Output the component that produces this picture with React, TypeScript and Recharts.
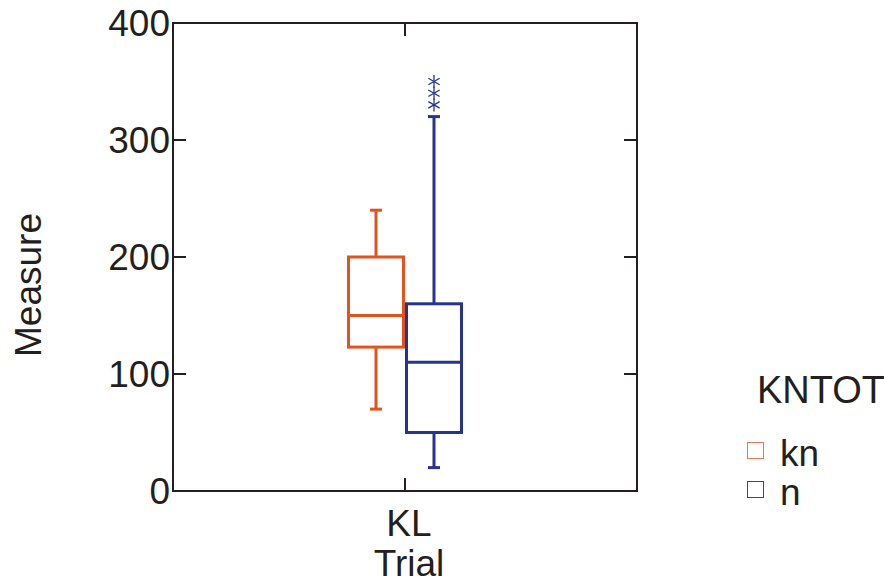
import { ComposedChart, Bar, XAxis, YAxis, Legend, ReferenceArea } from "recharts";

const categories = ["KL"];
const seriesNames = ["kn", "n"];
// whisker low, Q1, median, Q3, whisker high
const knBox = [70, 123, 150, 200, 240];
const nBox = [20, 50, 110, 160, 320];
const knOutliers: number[] = [];
const nOutliers = [330, 340, 350];
const yTicks = [0, 100, 200, 300, 400];

const INK = "#231f20";
const ORANGE = "#e0531f";
const BLUE = "#25358f";
const FONT = "'Liberation Sans', Arial, Helvetica, sans-serif";

const W = 884;
const H = 584;
const MARGIN = { top: 23, right: 247, bottom: 0, left: 0 };
const Y_AXIS_W = 173;
const X_AXIS_H = 93;
const PLOT_W = W - MARGIN.right - Y_AXIS_W;
const PLOT_H = H - MARGIN.top - X_AXIS_H;

const data = categories.map((c) => ({ trial: c, kn: knBox[4], n: nBox[4] }));
const legendColor: Record<string, string> = { kn: "#e8784f", n: "#3346a8" };

function Star({ cx, cy, color }: { cx: number; cy: number; color: string }) {
  const r = 6.5;
  const d = r * 0.87;
  return (
    <g stroke={color} strokeWidth={1.3}>
      <line x1={cx} y1={cy - r} x2={cx} y2={cy + r} />
      <line x1={cx - d} y1={cy - r / 2} x2={cx + d} y2={cy + r / 2} />
      <line x1={cx - d} y1={cy + r / 2} x2={cx + d} y2={cy - r / 2} />
    </g>
  );
}

function makeBox(stats: number[], outliers: number[], color: string) {
  return (props: any) => {
    const { x, y, width, height } = props;
    // bar spans 0..whisker high, so it gives us the value -> pixel scale
    const base = y + height;
    const k = height / stats[4];
    const py = (v: number) => base - v * k;
    const cx = x + width / 2;
    const cap = 6;
    return (
      <g stroke={color} strokeWidth={3} fill="none">
        <line x1={cx} y1={py(stats[4])} x2={cx} y2={py(stats[3])} />
        <line x1={cx} y1={py(stats[1])} x2={cx} y2={py(stats[0])} />
        <line x1={cx - cap} y1={py(stats[4])} x2={cx + cap} y2={py(stats[4])} />
        <line x1={cx - cap} y1={py(stats[0])} x2={cx + cap} y2={py(stats[0])} />
        <rect x={x + 1.5} y={py(stats[3])} width={width - 3} height={py(stats[1]) - py(stats[3])} />
        <line x1={x + 1.5} y1={py(stats[2])} x2={x + width - 1.5} y2={py(stats[2])} />
        {outliers.map((v, i) => (
          <Star key={i} cx={cx} cy={py(v)} color={color} />
        ))}
      </g>
    );
  };
}

// left ticks point inward; mirrored inward ticks on the right frame edge
const YTick = (props: any) => {
  const { x, y, payload } = props;
  return (
    <g>
      <line x1={x} y1={y} x2={x + 13} y2={y} stroke={INK} strokeWidth={2} />
      <line x1={x + PLOT_W} y1={y} x2={x + PLOT_W - 13} y2={y} stroke={INK} strokeWidth={2} />
      <text x={x - 3} y={y + 13} textAnchor="end" fontSize={37} fill={INK} fontFamily={FONT}>
        {payload.value}
      </text>
    </g>
  );
};

const XTick = (props: any) => {
  const { x, y, payload } = props;
  return (
    <g>
      <line x1={x} y1={y} x2={x} y2={y - 13} stroke={INK} strokeWidth={2} />
      <line x1={x} y1={y - PLOT_H} x2={x} y2={y - PLOT_H + 13} stroke={INK} strokeWidth={2} />
      <text x={x + 4} y={y + 45} textAnchor="middle" fontSize={37} fill={INK} fontFamily={FONT}>
        {payload.value}
      </text>
    </g>
  );
};

const LegendBox = (props: any) => {
  const items = props.payload || [];
  return (
    <div style={{ fontFamily: FONT, color: INK, textAlign: "left" }}>
      <div style={{ fontSize: 38, lineHeight: "40px", marginLeft: 12, marginBottom: 24 }}>KNTOT</div>
      {items.map((it: any) => (
        <div key={it.value} style={{ display: "flex", alignItems: "center", height: 39 }}>
          <span
            style={{
              display: "inline-block",
              width: 15,
              height: 15,
              border: `1.5px solid ${legendColor[it.value]}`,
              marginLeft: 2,
              marginRight: 16,
              marginTop: -6,
            }}
          />
          <span style={{ fontSize: 37 }}>{it.value}</span>
        </div>
      ))}
    </div>
  );
};

export default function App() {
  return (
    <div style={{ position: "absolute", left: 0, top: 0, width: W, height: H, background: "#fff" }}>
      <ComposedChart width={W} height={H} data={data} margin={MARGIN} barGap={0}>
        <ReferenceArea y1={0} y2={400} fill="none" stroke={INK} strokeWidth={2} fillOpacity={0} />
        <XAxis
          dataKey="trial"
          height={X_AXIS_H}
          tickSize={0}
          tickMargin={0}
          axisLine={{ stroke: INK, strokeWidth: 2 }}
          tick={<XTick />}
          label={{ value: "Trial", position: "insideBottom", offset: 8, dx: 4, fontSize: 37, fill: INK, fontFamily: FONT }}
        />
        <YAxis
          width={Y_AXIS_W}
          domain={[0, 400]}
          ticks={yTicks}
          tickSize={0}
          tickMargin={0}
          axisLine={{ stroke: INK, strokeWidth: 2 }}
          tick={<YTick />}
          label={{
            content: (p: any) => {
              const vb = p.viewBox;
              const cx = 28;
              const cy = vb.y + vb.height / 2 + 28;
              return (
                <text
                  x={cx}
                  y={cy}
                  transform={`rotate(-90 ${cx} ${cy})`}
                  textAnchor="middle"
                  dominantBaseline="central"
                  fontSize={37}
                  fill={INK}
                  fontFamily={FONT}
                >
                  Measure
                </text>
              );
            },
          }}
        />
        <Legend
          layout="horizontal"
          verticalAlign="middle"
          align="center"
          content={<LegendBox />}
          wrapperStyle={{ left: 745, top: 370, width: 139, height: 150, overflow: "hidden" }}
        />
        <Bar
          dataKey="kn"
          name={seriesNames[0]}
          fill={ORANGE}
          stroke={ORANGE}
          barSize={58}
          isAnimationActive={false}
          shape={makeBox(knBox, knOutliers, ORANGE)}
        />
        <Bar
          dataKey="n"
          name={seriesNames[1]}
          fill={BLUE}
          stroke={BLUE}
          barSize={58}
          isAnimationActive={false}
          shape={makeBox(nBox, nOutliers, BLUE)}
        />
      </ComposedChart>
    </div>
  );
}
